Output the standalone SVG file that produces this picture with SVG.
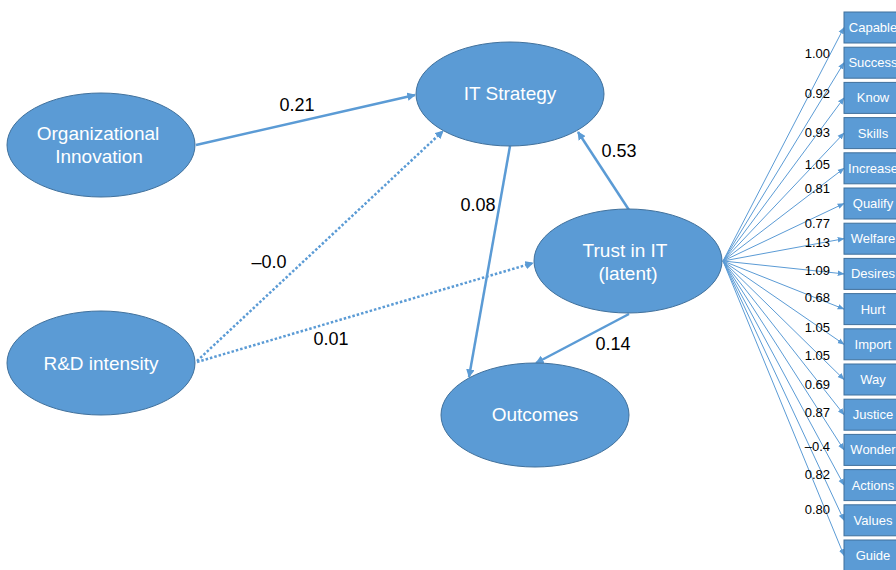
<svg xmlns="http://www.w3.org/2000/svg" width="896" height="570" viewBox="0 0 896 570">
  <defs>
    <style>
      .node { fill: #5B9BD5; stroke: #41719C; stroke-width: 1; }
      .ntext { fill: #ffffff; font-family: "Liberation Sans", Arial, sans-serif; font-size: 19px; text-anchor: middle; }
      .btext { fill: #ffffff; font-family: "Liberation Sans", Arial, sans-serif; font-size: 13px; text-anchor: middle; }
      .path { fill: none; stroke: #5B9BD5; stroke-width: 2.5; }
      .dot { stroke-dasharray: 2.5 2; }
      .load { fill: none; stroke: #5B9BD5; stroke-width: 1; }
      .lbl { fill: #000000; font-family: "Liberation Sans", Arial, sans-serif; font-size: 18px; text-anchor: middle; }
      .llbl { fill: #000000; font-family: "Liberation Sans", Arial, sans-serif; font-size: 13px; text-anchor: end; }
    </style>
    <marker id="arr" viewBox="0 0 10 10" refX="9" refY="5" markerWidth="3.4" markerHeight="3.4" orient="auto">
      <path d="M0,0 L10,5 L0,10 z" fill="#5B9BD5"/>
    </marker>
    <marker id="arrS" viewBox="0 0 10 10" refX="9" refY="5" markerWidth="7" markerHeight="7" orient="auto" markerUnits="userSpaceOnUse">
      <path d="M0,1 L10,5 L0,9 z" fill="#5B9BD5"/>
    </marker>
  </defs>

  <!-- structural paths -->
  <g id="connectors">
    <line class="path" x1="196" y1="145" x2="415" y2="95" marker-end="url(#arr)"/>
    <line class="path dot" x1="197" y1="361" x2="443" y2="131" marker-end="url(#arr)"/>
    <line class="path dot" x1="197" y1="362" x2="533" y2="263" marker-end="url(#arr)"/>
    <line class="path" x1="510" y1="146" x2="469" y2="377" marker-end="url(#arr)"/>
    <line class="path" x1="629" y1="210" x2="578" y2="132" marker-end="url(#arr)"/>
    <line class="path" x1="629" y1="314" x2="536" y2="363" marker-end="url(#arr)"/>

    <!-- indicator loadings -->
    <g id="loadings">
      <line class="load" x1="723" y1="261" x2="844" y2="27.5" marker-end="url(#arrS)"/>
      <line class="load" x1="723" y1="261" x2="844" y2="62.7" marker-end="url(#arrS)"/>
      <line class="load" x1="723" y1="261" x2="844" y2="97.9" marker-end="url(#arrS)"/>
      <line class="load" x1="723" y1="261" x2="844" y2="133.1" marker-end="url(#arrS)"/>
      <line class="load" x1="723" y1="261" x2="844" y2="168.3" marker-end="url(#arrS)"/>
      <line class="load" x1="723" y1="261" x2="844" y2="203.5" marker-end="url(#arrS)"/>
      <line class="load" x1="723" y1="261" x2="844" y2="238.7" marker-end="url(#arrS)"/>
      <line class="load" x1="723" y1="261" x2="844" y2="273.9" marker-end="url(#arrS)"/>
      <line class="load" x1="723" y1="261" x2="844" y2="309.1" marker-end="url(#arrS)"/>
      <line class="load" x1="723" y1="261" x2="844" y2="344.3" marker-end="url(#arrS)"/>
      <line class="load" x1="723" y1="261" x2="844" y2="379.5" marker-end="url(#arrS)"/>
      <line class="load" x1="723" y1="261" x2="844" y2="414.7" marker-end="url(#arrS)"/>
      <line class="load" x1="723" y1="261" x2="844" y2="449.9" marker-end="url(#arrS)"/>
      <line class="load" x1="723" y1="261" x2="844" y2="485.1" marker-end="url(#arrS)"/>
      <line class="load" x1="723" y1="261" x2="844" y2="520.3" marker-end="url(#arrS)"/>
      <line class="load" x1="723" y1="261" x2="844" y2="555.5" marker-end="url(#arrS)"/>
    </g>
  </g>

  <!-- path coefficients -->
  <g id="path-labels">
    <text class="lbl" x="297" y="110.5">0.21</text>
    <text class="lbl" x="269" y="268">–0.0</text>
    <text class="lbl" x="331" y="344.5">0.01</text>
    <text class="lbl" x="619" y="156.5">0.53</text>
    <text class="lbl" x="478" y="210.5">0.08</text>
    <text class="lbl" x="613" y="349.5">0.14</text>
  </g>

  <!-- loading values -->
  <g id="loading-labels">
    <text class="llbl" x="830" y="58">1.00</text>
    <text class="llbl" x="830" y="97.5">0.92</text>
    <text class="llbl" x="830" y="136.5">0.93</text>
    <text class="llbl" x="830" y="169">1.05</text>
    <text class="llbl" x="830" y="192.5">0.81</text>
    <text class="llbl" x="830" y="227.5">0.77</text>
    <text class="llbl" x="830" y="247">1.13</text>
    <text class="llbl" x="830" y="275">1.09</text>
    <text class="llbl" x="830" y="301.5">0.68</text>
    <text class="llbl" x="830" y="331.5">1.05</text>
    <text class="llbl" x="830" y="360">1.05</text>
    <text class="llbl" x="830" y="389">0.69</text>
    <text class="llbl" x="830" y="416.5">0.87</text>
    <text class="llbl" x="830" y="450.5">–0.4</text>
    <text class="llbl" x="830" y="479">0.82</text>
    <text class="llbl" x="830" y="514">0.80</text>
  </g>

  <!-- latent and observed constructs -->
  <g id="org-innovation">
    <ellipse class="node" cx="101" cy="145" rx="94" ry="52"/>
    <text class="ntext" x="98" y="140">Organizational</text>
    <text class="ntext" x="99" y="163">Innovation</text>
  </g>
  <g id="rd-intensity">
    <ellipse class="node" cx="101" cy="363" rx="94" ry="52"/>
    <text class="ntext" x="101" y="369.5">R&amp;D intensity</text>
  </g>
  <g id="it-strategy">
    <ellipse class="node" cx="510" cy="94" rx="94" ry="52"/>
    <text class="ntext" x="510" y="100">IT Strategy</text>
  </g>
  <g id="trust-in-it">
    <ellipse class="node" cx="628" cy="261" rx="94" ry="52"/>
    <text class="ntext" x="625" y="256.5">Trust in IT</text>
    <text class="ntext" x="628" y="280">(latent)</text>
  </g>
  <g id="outcomes">
    <ellipse class="node" cx="535" cy="415" rx="94" ry="52"/>
    <text class="ntext" x="535" y="421">Outcomes</text>
  </g>

  <!-- indicator boxes -->
  <g id="ind-capable"><rect class="node" x="844" y="12" width="58" height="31"/><text class="btext" x="873" y="32">Capable</text></g>
  <g id="ind-success"><rect class="node" x="844" y="47.2" width="58" height="31"/><text class="btext" x="873" y="67.2">Success</text></g>
  <g id="ind-know"><rect class="node" x="844" y="82.4" width="58" height="31"/><text class="btext" x="873" y="102.4">Know</text></g>
  <g id="ind-skills"><rect class="node" x="844" y="117.6" width="58" height="31"/><text class="btext" x="873" y="137.6">Skills</text></g>
  <g id="ind-increase"><rect class="node" x="844" y="152.8" width="58" height="31"/><text class="btext" x="873" y="172.8">Increase</text></g>
  <g id="ind-qualify"><rect class="node" x="844" y="188" width="58" height="31"/><text class="btext" x="873" y="208">Qualify</text></g>
  <g id="ind-welfare"><rect class="node" x="844" y="223.2" width="58" height="31"/><text class="btext" x="873" y="243.2">Welfare</text></g>
  <g id="ind-desires"><rect class="node" x="844" y="258.4" width="58" height="31"/><text class="btext" x="873" y="278.4">Desires</text></g>
  <g id="ind-hurt"><rect class="node" x="844" y="293.6" width="58" height="31"/><text class="btext" x="873" y="313.6">Hurt</text></g>
  <g id="ind-import"><rect class="node" x="844" y="328.8" width="58" height="31"/><text class="btext" x="873" y="348.8">Import</text></g>
  <g id="ind-way"><rect class="node" x="844" y="364" width="58" height="31"/><text class="btext" x="873" y="384">Way</text></g>
  <g id="ind-justice"><rect class="node" x="844" y="399.2" width="58" height="31"/><text class="btext" x="873" y="419.2">Justice</text></g>
  <g id="ind-wonder"><rect class="node" x="844" y="434.4" width="58" height="31"/><text class="btext" x="873" y="454.4">Wonder</text></g>
  <g id="ind-actions"><rect class="node" x="844" y="469.6" width="58" height="31"/><text class="btext" x="873" y="489.6">Actions</text></g>
  <g id="ind-values"><rect class="node" x="844" y="504.8" width="58" height="31"/><text class="btext" x="873" y="524.8">Values</text></g>
  <g id="ind-guide"><rect class="node" x="844" y="540" width="58" height="31"/><text class="btext" x="873" y="560">Guide</text></g>
</svg>
